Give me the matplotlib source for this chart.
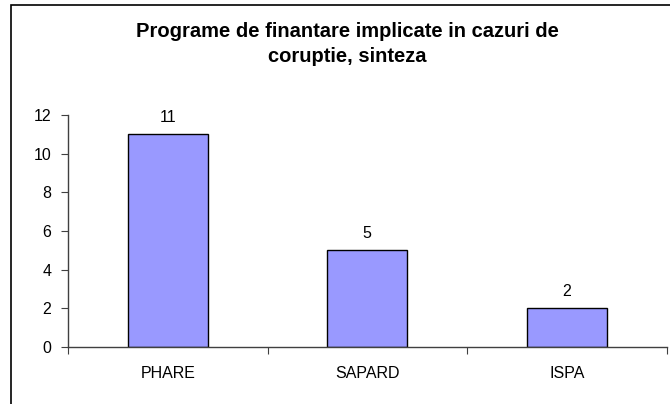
import numpy as np
import matplotlib.pyplot as plt
from matplotlib.patches import Rectangle

plt.rcParams['font.family'] = ['Liberation Sans', 'DejaVu Sans']

# data
programs = ['PHARE', 'SAPARD', 'ISPA']
cases = [11, 5, 2]
title = 'Programe de finantare implicate in cazuri de\ncoruptie, sinteza'

W, H = 670, 404
fig = plt.figure(figsize=(W / 100, H / 100), dpi=100)

# outer chart border (only top and left are visible in the crop)
fig.patches.append(Rectangle((11 / W, -0.1), 1.2, (H - 5) / H + 0.1,
                             transform=fig.transFigure, fill=False,
                             edgecolor='black', linewidth=1.2))

ax = fig.add_axes([68 / W, (H - 347) / H, 598.5 / W, 232 / H])

x = np.arange(len(programs))
ax.bar(x, cases, width=0.4, color='#9999FF', edgecolor='black', linewidth=1.0)

for xi, v in zip(x, cases):
    ax.annotate(str(v), (xi, v), xytext=(0, 6.5), textcoords='offset points',
                ha='center', va='bottom', fontsize=11.5)

ax.set_xlim(-0.5, len(programs) - 0.5)
ax.set_ylim(0, 12)
ax.set_yticks(np.arange(0, 13, 2))

# ticks at category boundaries, labels at centers
ax.set_xticks(np.arange(len(programs) + 1) - 0.5)
ax.set_xticklabels([])
ax.set_xticks(x, minor=True)
ax.set_xticklabels(programs, minor=True)
ax.tick_params(axis='x', which='major', length=5, direction='out', color='#404040')
ax.tick_params(axis='x', which='minor', length=0, pad=14, labelsize=11.5)
ax.tick_params(axis='y', length=5, direction='out', color='#404040', labelsize=11.5, pad=7)

for s in ['top', 'right']:
    ax.spines[s].set_visible(False)
for s in ['left', 'bottom']:
    ax.spines[s].set_color('#404040')
    ax.spines[s].set_linewidth(1.0)

fig.text(347 / W, 1 - 44 / H, title, ha='center', va='center', fontsize=14.5,
         fontweight='bold', linespacing=1.45)

fig.savefig('out.png', dpi=100)
